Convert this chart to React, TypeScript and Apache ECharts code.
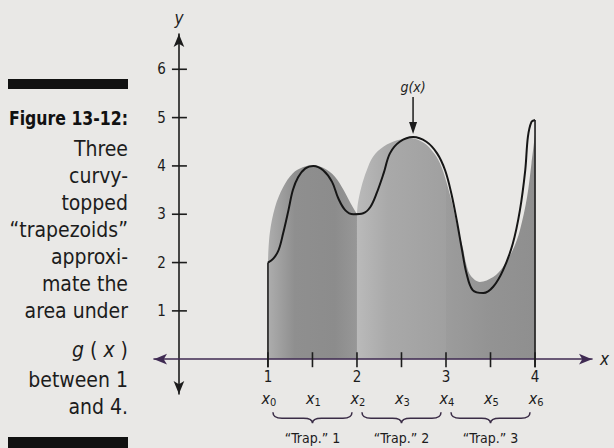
import React, { useEffect, useRef } from 'react';
import * as echarts from 'echarts';

// g(x)
const curveG: [number, number][] = [
  [1.0, 2.0], [1.06, 2.08], [1.12, 2.26], [1.17, 2.6], [1.23, 3.08], [1.28, 3.5],
  [1.34, 3.77], [1.42, 3.95], [1.51, 4.0], [1.62, 3.91], [1.72, 3.67], [1.79, 3.33],
  [1.87, 3.08], [1.96, 3.0], [2.07, 3.02], [2.15, 3.15], [2.22, 3.43], [2.3, 3.85],
  [2.37, 4.26], [2.48, 4.5], [2.63, 4.6], [2.78, 4.5], [2.9, 4.26], [2.99, 3.91],
  [3.06, 3.43], [3.12, 2.88], [3.18, 2.26], [3.23, 1.78], [3.3, 1.43], [3.42, 1.37],
  [3.53, 1.5], [3.64, 1.84], [3.75, 2.39], [3.83, 3.08], [3.89, 3.91], [3.92, 4.6],
  [3.96, 4.91], [4.0, 4.95],
];

// tops of the three shaded "trapezoids"
const trap1Top: [number, number][] = [
  [1.0, 2.0], [1.02, 2.6], [1.08, 3.15], [1.17, 3.56], [1.28, 3.85], [1.39, 3.97],
  [1.5, 4.02], [1.62, 3.96], [1.75, 3.78], [1.85, 3.5], [1.93, 3.22], [2.0, 3.0],
];
const trap2Top: [number, number][] = [
  [2.0, 3.0], [2.01, 3.22], [2.05, 3.57], [2.11, 3.91], [2.18, 4.19], [2.3, 4.4],
  [2.45, 4.53], [2.6, 4.58], [2.75, 4.48], [2.87, 4.25], [2.95, 3.98], [3.0, 3.7],
];
const trap3Top: [number, number][] = [
  [3.0, 3.7], [3.06, 3.3], [3.12, 2.8], [3.19, 2.3], [3.23, 1.95], [3.28, 1.72],
  [3.38, 1.6], [3.53, 1.7], [3.64, 1.91], [3.75, 2.26], [3.83, 2.67], [3.91, 3.35],
  [3.96, 4.05], [4.0, 4.65],
];

const xTickValues = [1, 1.5, 2, 2.5, 3, 3.5, 4];
const xNumberLabels = [1, 2, 3, 4];
const yTickValues = [1, 2, 3, 4, 5, 6];
const subscriptLabels = ['0', '1', '2', '3', '4', '5', '6'];
const trapSpans: [number, number, string][] = [
  [1, 2, '“Trap.” 1'],
  [2, 3, '“Trap.” 2'],
  [3, 4, '“Trap.” 3'],
];
const gPeak: [number, number] = [2.63, 4.6];
const edgeLines: [number, number][] = [[1, 2.0], [4, 4.95]];
const figureTitle = 'Figure 13-12:';
const captionLines = [
  'Three', 'curvy-', 'topped', '“trapezoids”', 'approxi-', 'mate the',
  'area under', '{i|g} ( {i|x} )', 'between 1', 'and 4.',
];

const FONT = "'DejaVu Sans Condensed', 'Liberation Sans Narrow', 'DejaVu Sans', sans-serif";
const INK = '#1c1c1c';
const BG = '#e9e8e6';

export default function App() {
  const ref = useRef<HTMLDivElement>(null);
  useEffect(() => {
    if (!ref.current) return;
    const chart = echarts.init(ref.current, undefined, { renderer: 'svg' });

    const grad = (stops: [number, string][]) => ({
      type: 'linear', x: 0, y: 0, x2: 1, y2: 0,
      colorStops: stops.map(([offset, color]) => ({ offset, color })),
    });

    const areaSeries = (data: [number, number][], fill: any) => ({
      type: 'line', data, smooth: 0.35, showSymbol: false, silent: true, z: 1,
      lineStyle: { width: 0 }, areaStyle: { color: fill, opacity: 1 },
    });

    const captionY = [149, 176, 203, 230, 257, 284, 311, 350, 380, 407];
    const graphic: any[] = [
      { type: 'rect', shape: { x: 8, y: 79, width: 120, height: 10 }, style: { fill: '#111' } },
      { type: 'rect', shape: { x: 8, y: 437, width: 120, height: 14 }, style: { fill: '#111' } },
      {
        type: 'text', x: 128, y: 118, scaleY: 1.12,
        style: { text: figureTitle, font: `bold 17.5px ${FONT}`, fill: '#111', textAlign: 'right', textVerticalAlign: 'middle', align: 'right', verticalAlign: 'middle' },
      },
      ...captionLines.map((t, i) => ({
        type: 'text', x: 128, y: captionY[i],
        style: {
          text: t, font: `21px ${FONT}`, fill: INK, textAlign: 'right', textVerticalAlign: 'middle', align: 'right', verticalAlign: 'middle',
          rich: { i: { fontStyle: 'italic', fontFamily: FONT, fontSize: 21, fill: INK } },
        },
      })),
    ];

    const option: any = {
      animation: false,
      backgroundColor: BG,
      grid: { left: 154, top: 34, width: 438, height: 360, containLabel: false },
      xAxis: {
        type: 'value', min: -0.28, max: 4.64, z: 4,
        axisLine: { onZero: true, symbol: ['arrow', 'arrow'], symbolSize: [8, 13], lineStyle: { color: '#3f2a52', width: 1.6 } },
        axisTick: { show: false }, axisLabel: { show: false }, splitLine: { show: false },
        name: 'x', nameLocation: 'end', nameGap: 8,
        nameTextStyle: { fontFamily: FONT, fontStyle: 'italic', fontSize: 17, color: INK },
      },
      yAxis: {
        type: 'value', min: -0.72, max: 6.73, z: 4,
        axisLine: { onZero: true, symbol: ['arrow', 'arrow'], symbolSize: [8, 13], lineStyle: { color: INK, width: 1.6 } },
        axisTick: { show: false }, axisLabel: { show: false }, splitLine: { show: false },
        name: 'y', nameLocation: 'end', nameGap: 8,
        nameTextStyle: { fontFamily: FONT, fontStyle: 'italic', fontSize: 17, color: INK },
      },
      graphic,
      series: [
        areaSeries(trap1Top, grad([[0, '#adadad'], [0.3, '#8f8f8f'], [0.75, '#8c8c8c'], [1, '#979797']])),
        areaSeries(trap2Top, grad([[0, '#bababa'], [0.35, '#a9a9a9'], [1, '#a0a0a0']])),
        areaSeries(trap3Top, grad([[0, '#9c9c9c'], [0.5, '#939393'], [1, '#8f8f8f']])),
        {
          type: 'line', data: curveG, smooth: 0.35, showSymbol: false, silent: true, z: 3,
          lineStyle: { color: '#161616', width: 2 },
        },
        {
          type: 'custom', z: 5, silent: true, data: edgeLines,
          renderItem: (_p: any, api: any) => {
            const a = api.coord([api.value(0), api.value(1)]);
            const b = api.coord([api.value(0), 0]);
            return { type: 'line', shape: { x1: a[0], y1: a[1], x2: b[0], y2: b[1] + 8 }, style: { stroke: INK, lineWidth: 1.6 } };
          },
        },
        {
          type: 'custom', z: 5, silent: true, data: xTickValues.map((v) => [v, 0]),
          renderItem: (_p: any, api: any) => {
            const p = api.coord([api.value(0), 0]);
            return { type: 'line', shape: { x1: p[0], y1: p[1] - 7, x2: p[0], y2: p[1] + 8 }, style: { stroke: INK, lineWidth: 1.6 } };
          },
        },
        {
          type: 'custom', z: 5, silent: true, data: xNumberLabels.map((v) => [v, 0]),
          renderItem: (_p: any, api: any) => {
            const v = api.value(0);
            const p = api.coord([v, 0]);
            return {
              type: 'text', x: p[0], y: p[1] + 18,
              style: { text: String(v), font: `15px ${FONT}`, fill: INK, textAlign: 'center', textVerticalAlign: 'middle', align: 'center', verticalAlign: 'middle' },
            };
          },
        },
        {
          type: 'custom', z: 5, silent: true, data: xTickValues.map((v) => [v, 0]),
          renderItem: (params: any, api: any) => {
            const p = api.coord([api.value(0), 0]);
            return {
              type: 'text', x: p[0] + 1, y: p[1] + 39,
              style: {
                text: `{i|x}{s|${subscriptLabels[params.dataIndex]}}`,
                fill: INK, textAlign: 'center', textVerticalAlign: 'middle', align: 'center', verticalAlign: 'middle',
                rich: {
                  i: { fontFamily: FONT, fontStyle: 'italic', fontSize: 16, fill: INK },
                  s: { fontFamily: FONT, fontSize: 11, fill: INK, padding: [9, 0, 0, 0] },
                },
              },
            };
          },
        },
        {
          type: 'custom', z: 5, silent: true, data: yTickValues.map((v) => [0, v]),
          renderItem: (_p: any, api: any) => {
            const v = api.value(1);
            const p = api.coord([0, v]);
            return {
              type: 'group',
              children: [
                { type: 'line', shape: { x1: p[0] - 7, y1: p[1], x2: p[0] + 8, y2: p[1] }, style: { stroke: INK, lineWidth: 1.6 } },
                {
                  type: 'text', x: p[0] - 13, y: p[1],
                  style: { text: String(v), font: `15px ${FONT}`, fill: INK, textAlign: 'right', textVerticalAlign: 'middle', align: 'right', verticalAlign: 'middle' },
                },
              ],
            };
          },
        },
        {
          type: 'custom', z: 5, silent: true, data: trapSpans.map((t) => [t[0], 0, t[1]]),
          renderItem: (params: any, api: any) => {
            const a = api.coord([api.value(0), 0]);
            const b = api.coord([api.value(2), 0]);
            const y0 = a[1];
            const l = a[0] + 5, r = b[0] - 5, m = (a[0] + b[0]) / 2;
            const yE = y0 + 53, yM = y0 + 59, yT = y0 + 64;
            const d = `M${l} ${yE} Q${l} ${yM} ${l + 9} ${yM} L${m - 9} ${yM} Q${m} ${yM} ${m} ${yT} Q${m} ${yM} ${m + 9} ${yM} L${r - 9} ${yM} Q${r} ${yM} ${r} ${yE}`;
            return {
              type: 'group',
              children: [
                { type: 'path', shape: { pathData: d }, style: { stroke: '#3a2c46', lineWidth: 1.5, fill: 'none' } },
                {
                  type: 'text', x: m, y: y0 + 79,
                  style: { text: trapSpans[params.dataIndex][2], font: `14px ${FONT}`, fill: INK, textAlign: 'center', textVerticalAlign: 'middle', align: 'center', verticalAlign: 'middle' },
                },
              ],
            };
          },
        },
        {
          type: 'custom', z: 5, silent: true, data: [gPeak],
          renderItem: (_p: any, api: any) => {
            const p = api.coord([api.value(0), api.value(1)]);
            return {
              type: 'group',
              children: [
                { type: 'line', shape: { x1: p[0], y1: p[1] - 40, x2: p[0], y2: p[1] - 12 }, style: { stroke: INK, lineWidth: 1.5 } },
                { type: 'polygon', shape: { points: [[p[0] - 4, p[1] - 15], [p[0] + 4, p[1] - 15], [p[0], p[1] - 3]] }, style: { fill: INK } },
                {
                  type: 'text', x: p[0], y: p[1] - 50,
                  style: { text: 'g(x)', font: `italic 14px ${FONT}`, fill: INK, textAlign: 'center', textVerticalAlign: 'middle', align: 'center', verticalAlign: 'middle' },
                },
              ],
            };
          },
        },
      ],
    };
    chart.setOption(option);
    return () => chart.dispose();
  }, []);

  return (
    <div
      ref={ref}
      style={{ position: 'fixed', left: 0, top: 0, width: 614, height: 448, background: BG }}
    />
  );
}
